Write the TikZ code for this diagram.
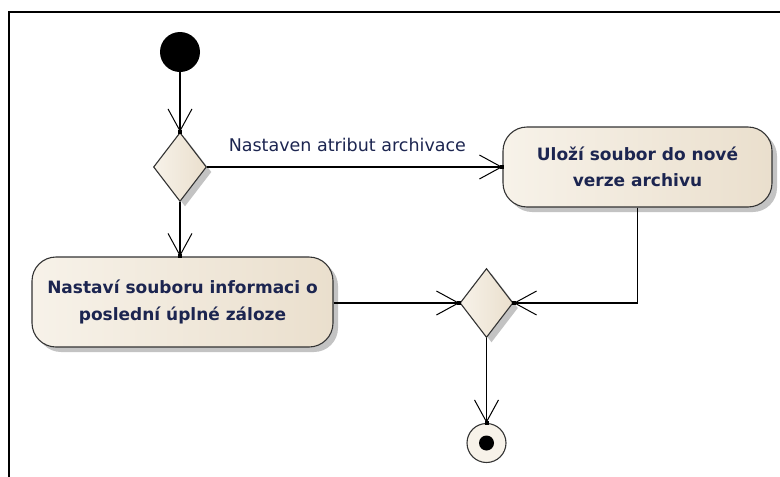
\documentclass[tikz,border=0pt]{standalone}
\usepackage{fontspec}
\setmainfont{DejaVu Sans}
\usetikzlibrary{arrows.meta,shapes.geometric,shadows}
\definecolor{actlight}{HTML}{F7F2E9}
\definecolor{actdark}{HTML}{EADFCD}
\definecolor{txtnavy}{HTML}{1C2550}
\definecolor{shade}{HTML}{B4B4B4}
\tikzset{
  flow/.style={line width=1.4pt, black},
  barb/.style={flow, -{Straight Barb[length=22pt,width=24pt,line width=1pt]}},
  tipsq/.style={fill=black},
  activity/.style={rectangle, rounded corners=24pt, draw=black!80, line width=1.1pt,
    left color=actlight, right color=actdark, align=center, text=txtnavy,
    font=\bfseries\fontsize{17pt}{26.5pt}\selectfont,
    drop shadow={shadow xshift=5pt, shadow yshift=-5pt, fill=shade, opacity=0.8}},
  decision/.style={diamond, draw=black!80, line width=1.1pt, inner sep=0pt,
    minimum width=53pt, minimum height=69pt,
    left color=actlight, right color=actdark,
    drop shadow={shadow xshift=5pt, shadow yshift=-5pt, fill=shade, opacity=0.8}},
  initial/.style={circle, fill=black, minimum size=40pt, inner sep=0pt},
  final/.style={circle, draw=black!80, line width=1.1pt, fill=actlight,
    minimum size=39pt, inner sep=0pt},
  guard/.style={text=txtnavy, font=\fontsize{17.5pt}{20pt}\selectfont}
}
\newcommand{\tipmark}[1]{\fill[tipsq] ([shift={(-2pt,-2pt)}]#1) rectangle ++(4pt,4pt);}
\begin{document}
\begin{tikzpicture}[x=1pt, y=-1pt]
  \useasboundingbox (0,0) rectangle (780,477);
  % frame edges
  \draw[line width=2pt] (8.5,477) -- (8.5,12) -- (780,12);

  % nodes
  \node[initial] (start) at (180,52) {};
  \node[decision] (d1) at (180,167) {};
  \node[activity, minimum width=269pt, minimum height=80pt] (b1) at (637.5,167)
    {Uloží soubor do nové\\verze archivu};
  \node[activity, minimum width=301pt, minimum height=90pt] (b2) at (182.5,302)
    {Nastaví souboru informaci o\\poslední úplné záloze};
  \node[decision] (d2) at (486.5,303) {};
  \node[final] (end) at (486.5,443) {};
  \fill[black] (end.center) circle (7.5pt);

  % connectors
  \draw[barb] (start) -- (d1.north);
  \tipmark{d1.north}
  \draw[barb] (d1.east) -- node[guard, above=11pt, pos=0.475] {Nastaven atribut archivace} (b1.west);
  \tipmark{b1.west}
  \draw[barb] (d1.south) -- (d1.south |- b2.north);
  \tipmark{d1.south |- b2.north}
  \draw[barb] (b2.east |- d2.west) -- (d2.west);
  \tipmark{d2.west}
  \draw[barb] (b1.south) -- (b1.south |- d2.east) -- (d2.east);
  \tipmark{d2.east}
  \draw[barb] (d2.south) -- (end.north);
  \tipmark{end.north}
\end{tikzpicture}
\end{document}
